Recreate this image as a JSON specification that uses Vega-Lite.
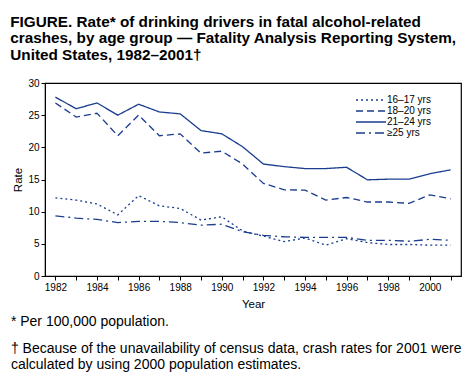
{
  "$schema": "https://vega.github.io/schema/vega-lite/v6.json",
  "background": "white",
  "padding": {"left": 10, "top": 14, "right": 5, "bottom": 5},
  "title": {
    "text": ["FIGURE. Rate* of drinking drivers in fatal alcohol-related", "crashes, by age group — Fatality Analysis Reporting System,", "United States, 1982–2001†"],
    "anchor": "start",
    "frame": "bounds",
    "dx": 0,
    "font": "Liberation Sans",
    "fontSize": 15.3,
    "fontWeight": "bold",
    "lineHeight": 16.7,
    "color": "black",
    "offset": 14
  },
  "config": {
    "font": "Liberation Sans",
    "view": {"stroke": "black", "strokeWidth": 1.2},
    "axis": {"grid": false, "domainColor": "black", "tickColor": "black", "labelColor": "black", "titleColor": "black", "labelFont": "Liberation Sans", "titleFont": "Liberation Sans", "titleFontWeight": "normal", "labelFontSize": 10, "titleFontSize": 11.5}
  },
  "vconcat": [
    {
      "width": 416,
      "height": 193,
      "title": {
        "text": "* Per 100,000 population.",
        "subtitle": ["† Because of the unavailability of census data, crash rates for 2001 were", "\u2002\u2002calculated by using 2000 population estimates."],
        "orient": "bottom",
        "anchor": "start",
        "frame": "bounds",
        "dx": -2,
        "font": "Liberation Sans",
        "fontSize": 14,
        "fontWeight": "normal",
        "color": "black",
        "subtitleFont": "Liberation Sans",
        "subtitleFontSize": 14,
        "subtitleColor": "black",
        "subtitleLineHeight": 16,
        "subtitlePadding": 13,
        "offset": 5
      },
      "data": {
        "values": [
          {"year": 1982, "group": "16–17 yrs", "rate": 12.15},
          {"year": 1983, "group": "16–17 yrs", "rate": 11.8},
          {"year": 1984, "group": "16–17 yrs", "rate": 11.2},
          {"year": 1985, "group": "16–17 yrs", "rate": 9.5},
          {"year": 1986, "group": "16–17 yrs", "rate": 12.5},
          {"year": 1987, "group": "16–17 yrs", "rate": 10.9},
          {"year": 1988, "group": "16–17 yrs", "rate": 10.5},
          {"year": 1989, "group": "16–17 yrs", "rate": 8.7},
          {"year": 1990, "group": "16–17 yrs", "rate": 9.2},
          {"year": 1991, "group": "16–17 yrs", "rate": 7.0},
          {"year": 1992, "group": "16–17 yrs", "rate": 6.2},
          {"year": 1993, "group": "16–17 yrs", "rate": 5.35},
          {"year": 1994, "group": "16–17 yrs", "rate": 5.9},
          {"year": 1995, "group": "16–17 yrs", "rate": 4.8},
          {"year": 1996, "group": "16–17 yrs", "rate": 5.8},
          {"year": 1997, "group": "16–17 yrs", "rate": 5.2},
          {"year": 1998, "group": "16–17 yrs", "rate": 4.9},
          {"year": 1999, "group": "16–17 yrs", "rate": 4.9},
          {"year": 2000, "group": "16–17 yrs", "rate": 4.8},
          {"year": 2001, "group": "16–17 yrs", "rate": 4.8},
          {"year": 1982, "group": "18–20 yrs", "rate": 26.9},
          {"year": 1983, "group": "18–20 yrs", "rate": 24.7},
          {"year": 1984, "group": "18–20 yrs", "rate": 25.3},
          {"year": 1985, "group": "18–20 yrs", "rate": 21.8},
          {"year": 1986, "group": "18–20 yrs", "rate": 25.0},
          {"year": 1987, "group": "18–20 yrs", "rate": 21.8},
          {"year": 1988, "group": "18–20 yrs", "rate": 22.1},
          {"year": 1989, "group": "18–20 yrs", "rate": 19.1},
          {"year": 1990, "group": "18–20 yrs", "rate": 19.4},
          {"year": 1991, "group": "18–20 yrs", "rate": 17.4},
          {"year": 1992, "group": "18–20 yrs", "rate": 14.4},
          {"year": 1993, "group": "18–20 yrs", "rate": 13.4},
          {"year": 1994, "group": "18–20 yrs", "rate": 13.35},
          {"year": 1995, "group": "18–20 yrs", "rate": 11.8},
          {"year": 1996, "group": "18–20 yrs", "rate": 12.2},
          {"year": 1997, "group": "18–20 yrs", "rate": 11.5},
          {"year": 1998, "group": "18–20 yrs", "rate": 11.5},
          {"year": 1999, "group": "18–20 yrs", "rate": 11.3},
          {"year": 2000, "group": "18–20 yrs", "rate": 12.6},
          {"year": 2001, "group": "18–20 yrs", "rate": 12.0},
          {"year": 1982, "group": "21–24 yrs", "rate": 27.8},
          {"year": 1983, "group": "21–24 yrs", "rate": 26.0},
          {"year": 1984, "group": "21–24 yrs", "rate": 26.9},
          {"year": 1985, "group": "21–24 yrs", "rate": 25.0},
          {"year": 1986, "group": "21–24 yrs", "rate": 26.7},
          {"year": 1987, "group": "21–24 yrs", "rate": 25.5},
          {"year": 1988, "group": "21–24 yrs", "rate": 25.2},
          {"year": 1989, "group": "21–24 yrs", "rate": 22.6},
          {"year": 1990, "group": "21–24 yrs", "rate": 22.1},
          {"year": 1991, "group": "21–24 yrs", "rate": 20.1},
          {"year": 1992, "group": "21–24 yrs", "rate": 17.4},
          {"year": 1993, "group": "21–24 yrs", "rate": 17.0},
          {"year": 1994, "group": "21–24 yrs", "rate": 16.7},
          {"year": 1995, "group": "21–24 yrs", "rate": 16.7},
          {"year": 1996, "group": "21–24 yrs", "rate": 16.9},
          {"year": 1997, "group": "21–24 yrs", "rate": 14.95},
          {"year": 1998, "group": "21–24 yrs", "rate": 15.05},
          {"year": 1999, "group": "21–24 yrs", "rate": 15.05},
          {"year": 2000, "group": "21–24 yrs", "rate": 15.9},
          {"year": 2001, "group": "21–24 yrs", "rate": 16.5},
          {"year": 1982, "group": "≥25 yrs", "rate": 9.35},
          {"year": 1983, "group": "≥25 yrs", "rate": 9.0},
          {"year": 1984, "group": "≥25 yrs", "rate": 8.8},
          {"year": 1985, "group": "≥25 yrs", "rate": 8.3},
          {"year": 1986, "group": "≥25 yrs", "rate": 8.5},
          {"year": 1987, "group": "≥25 yrs", "rate": 8.5},
          {"year": 1988, "group": "≥25 yrs", "rate": 8.3},
          {"year": 1989, "group": "≥25 yrs", "rate": 7.9},
          {"year": 1990, "group": "≥25 yrs", "rate": 8.05},
          {"year": 1991, "group": "≥25 yrs", "rate": 6.9},
          {"year": 1992, "group": "≥25 yrs", "rate": 6.3},
          {"year": 1993, "group": "≥25 yrs", "rate": 6.1},
          {"year": 1994, "group": "≥25 yrs", "rate": 6.0},
          {"year": 1995, "group": "≥25 yrs", "rate": 6.0},
          {"year": 1996, "group": "≥25 yrs", "rate": 6.0},
          {"year": 1997, "group": "≥25 yrs", "rate": 5.55},
          {"year": 1998, "group": "≥25 yrs", "rate": 5.55},
          {"year": 1999, "group": "≥25 yrs", "rate": 5.4},
          {"year": 2000, "group": "≥25 yrs", "rate": 5.7},
          {"year": 2001, "group": "≥25 yrs", "rate": 5.55}
        ]
      },
      "mark": {"type": "line", "color": "#1a3d8f", "strokeWidth": 1.3},
      "encoding": {
        "x": {
          "field": "year", "type": "quantitative",
          "scale": {"domain": [1981.5, 2001.5], "nice": false, "zero": false},
          "axis": {
            "title": "Year",
            "values": [1982, 1983, 1984, 1985, 1986, 1987, 1988, 1989, 1990, 1991, 1992, 1993, 1994, 1995, 1996, 1997, 1998, 1999, 2000, 2001],
            "labelExpr": "datum.value % 2 == 0 ? datum.value : ''",
            "format": "d",
            "tickSize": 4,
            "labelPadding": 2,
            "titlePadding": 6
          }
        },
        "y": {
          "field": "rate", "type": "quantitative",
          "scale": {"domain": [0, 30], "nice": false},
          "axis": {
            "title": "Rate",
            "values": [0, 5, 10, 15, 20, 25, 30],
            "tickSize": 4,
            "labelPadding": 2,
            "titlePadding": 4
          }
        },
        "strokeDash": {
          "field": "group", "type": "nominal",
          "scale": {
            "domain": ["16–17 yrs", "18–20 yrs", "21–24 yrs", "≥25 yrs"],
            "range": [[2, 3], [7, 4], [1, 0], [9, 4, 2, 4]]
          },
          "legend": {
            "title": null,
            "orient": "none",
            "legendX": 320,
            "legendY": 11,
            "symbolType": "M-3,0H3",
            "symbolSize": 100,
            "symbolStrokeColor": "#1a3d8f",
            "symbolStrokeWidth": 1.3,
            "symbolFillColor": "transparent",
            "labelFontSize": 10,
            "labelFont": "Liberation Sans",
            "labelColor": "black",
            "rowPadding": 0,
            "labelOffset": 10
          }
        }
      }
    }
  ]
}
